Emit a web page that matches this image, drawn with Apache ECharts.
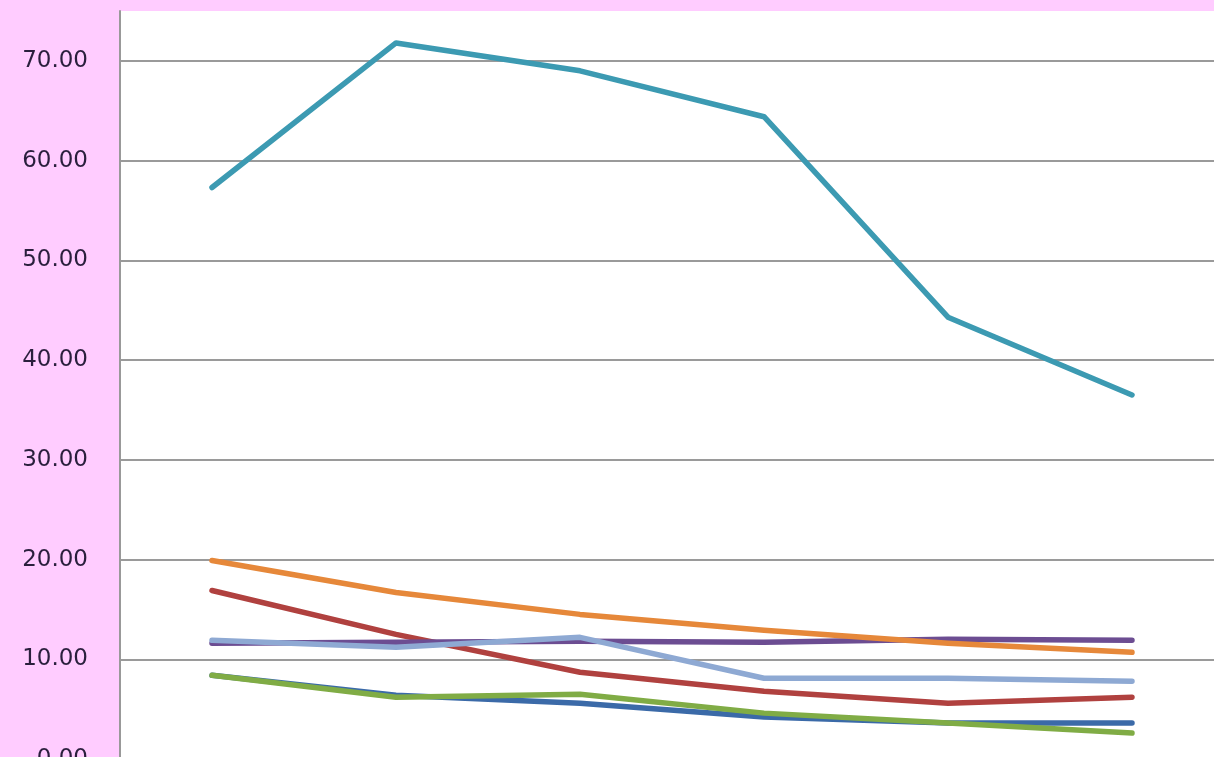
<!DOCTYPE html>
<html>
<head>
<meta charset="utf-8">
<style>
  html, body { margin: 0; padding: 0; background: #ffccff; }
  #chart { width: 1214px; height: 757px; }
</style>
<script src="https://cdn.jsdelivr.net/npm/echarts@6/dist/echarts.min.js"></script>
</head>
<body>
<div id="chart"></div>
<script>
// categories (axis labels are outside the visible crop)
const categories = ['1', '2', '3', '4', '5', '6'];

// series values
const blueVals = [8.4, 6.4, 5.6, 4.2, 3.6, 3.6];
const redVals = [16.9, 12.5, 8.7, 6.8, 5.6, 6.2];
const greenVals = [8.4, 6.2, 6.5, 4.6, 3.6, 2.6];
const purpleVals = [11.6, 11.7, 11.8, 11.7, 12.0, 11.9];
const tealVals = [57.3, 71.8, 69.0, 64.4, 44.3, 36.5];
const orangeVals = [19.9, 16.7, 14.5, 12.9, 11.6, 10.7];
const lightBlueVals = [11.9, 11.2, 12.2, 8.1, 8.1, 7.8];

const myChart = echarts.init(document.getElementById('chart'));

// helper to build a plain line series
function lineSeries(name, data, color) {
  return {
    name: name,
    type: 'line',
    data: data,
    symbol: 'none',
    lineStyle: { color: color, width: 5.5, cap: 'round', join: 'round' },
    itemStyle: { color: color },
  };
}

const option = {
  backgroundColor: '#ffccff',
  animation: false,
  grid: {
    left: 120,
    top: 11,
    width: 1104,
    height: 748,
    outerBoundsMode: 'none',
    containLabel: false,
    show: true,
    backgroundColor: '#ffffff',
    borderWidth: 0,
    borderColor: 'transparent',
  },
  xAxis: {
    type: 'category',
    data: categories,
    boundaryGap: true,
    axisLine: { show: false },
    axisTick: { show: false },
    axisLabel: { show: false },
  },
  yAxis: {
    type: 'value',
    min: 0,
    max: 75,
    interval: 10,
    axisLine: { show: true, lineStyle: { color: '#999999', width: 2 } },
    axisTick: { show: false },
    splitLine: { showMaxLine: false, lineStyle: { color: '#9a9a9a', width: 2 } },
    axisLabel: {
      formatter: (v) => (v % 10 === 0 ? v.toFixed(2) : ''),
      fontFamily: 'DejaVu Sans, sans-serif',
      fontSize: 23,
      color: '#2a1f3d',
      margin: 32,
      showMaxLabel: false,
    },
  },
  series: [
    lineSeries('Series 1', blueVals, '#3b6aa8'),
    lineSeries('Series 2', redVals, '#b0413f'),
    lineSeries('Series 3', greenVals, '#80ac45'),
    lineSeries('Series 4', purpleVals, '#6c4d92'),
    lineSeries('Series 5', tealVals, '#3c9ab2'),
    lineSeries('Series 6', orangeVals, '#e6883a'),
    lineSeries('Series 7', lightBlueVals, '#8ea9d3'),
  ],
};

myChart.setOption(option);

window.addEventListener('resize', () => {
  myChart.resize();
});
</script>
</body>
</html>
